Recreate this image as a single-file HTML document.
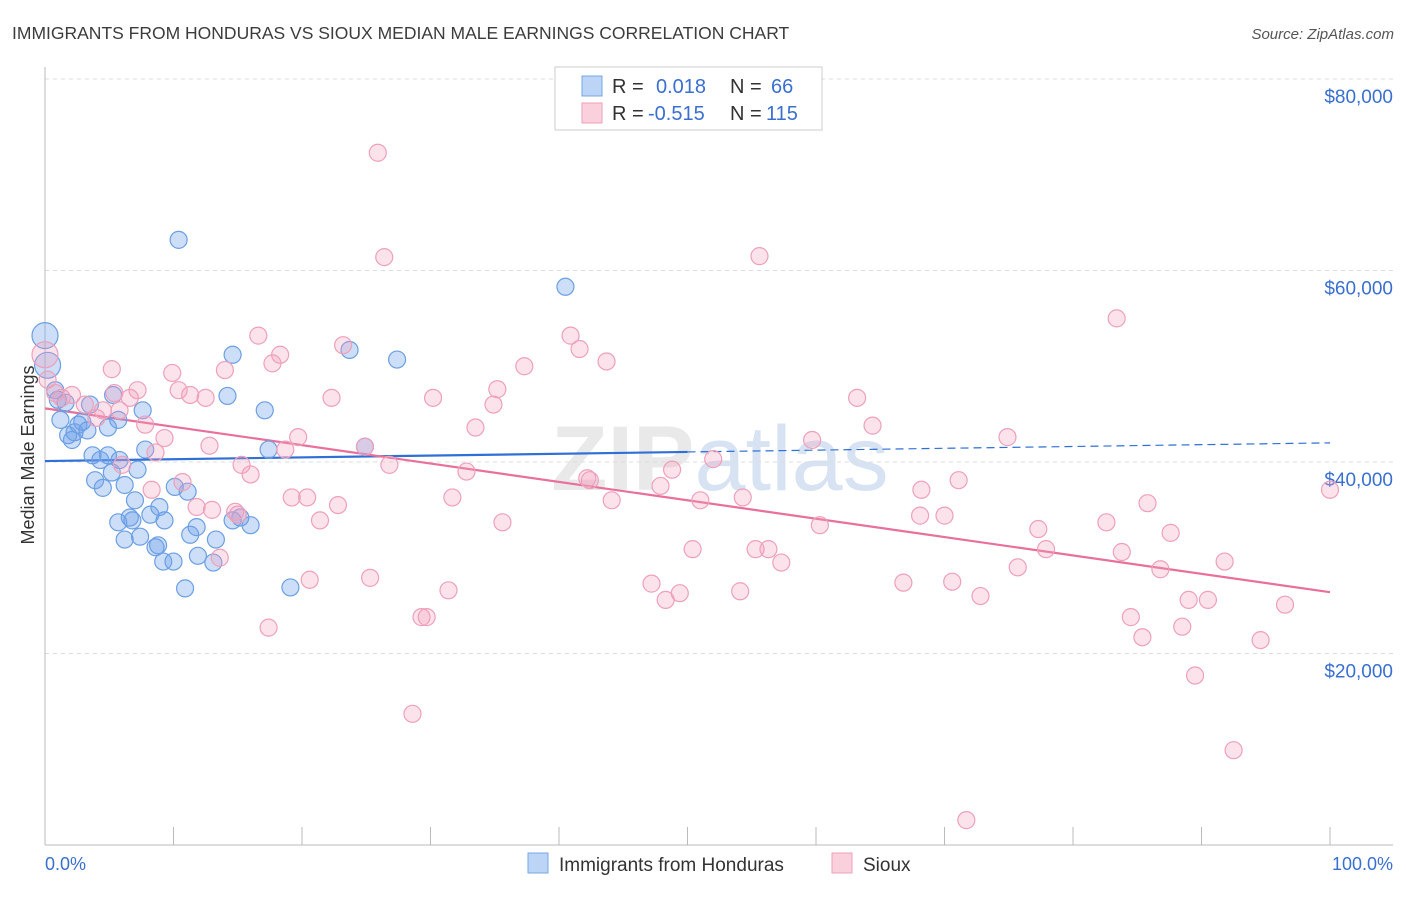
<!DOCTYPE html>
<html><head><meta charset="utf-8"><style>
body{margin:0;background:#fff;font-family:"Liberation Sans",sans-serif;}
svg text{font-family:"Liberation Sans",sans-serif;}
</style></head><body>
<svg id="c" width="1406" height="892" xmlns="http://www.w3.org/2000/svg">
<text x="12" y="39" font-size="17.5" fill="#3c3c3c">IMMIGRANTS FROM HONDURAS VS SIOUX MEDIAN MALE EARNINGS CORRELATION CHART</text>
<text x="1394" y="39" font-size="15" fill="#555" font-style="italic" text-anchor="end">Source: ZipAtlas.com</text>
<text x="720" y="490" font-size="92" fill="#d8d8d8" text-anchor="middle" font-weight="bold" opacity="0.55">ZIP<tspan fill="#b8cdea" font-weight="normal">atlas</tspan></text>
<g id="grid"></g>
<g id="axes"></g>
<g id="lines"></g>
<g id="pts"></g>
<text transform="translate(34,455) rotate(-90)" font-size="18" fill="#333" text-anchor="middle">Median Male Earnings</text>
<text x="45" y="870" font-size="18" fill="#3a6fd0">0.0%</text>
<text x="1393" y="870" font-size="18" fill="#3a6fd0" text-anchor="end">100.0%</text>
<g>
<rect x="555" y="67" width="267" height="63" fill="#fff" stroke="#ccc"/>
<rect x="582" y="76" width="20" height="20" fill="#bcd4f5" stroke="#7aa6e6"/>
<rect x="582" y="103" width="20" height="20" fill="#fbd0dd" stroke="#eea0bb"/>
<text x="612" y="93" font-size="20" fill="#333">R = <tspan fill="#3a6fd0" x="656">0.018</tspan><tspan x="730">N = </tspan><tspan fill="#3a6fd0" x="771">66</tspan></text>
<text x="612" y="120" font-size="20" fill="#333">R = <tspan fill="#3a6fd0" x="648">-0.515</tspan><tspan x="730">N = </tspan><tspan fill="#3a6fd0" x="766">115</tspan></text>
</g>
<g>
<rect x="528" y="853" width="20" height="20" fill="#bcd4f5" stroke="#7aa6e6"/>
<text x="559" y="871" font-size="19" fill="#333">Immigrants from Honduras</text>
<rect x="832" y="853" width="20" height="20" fill="#fbd0dd" stroke="#eea0bb"/>
<text x="863" y="871" font-size="19" fill="#333">Sioux</text>
</g>
</svg>
<script>
const yTicks=[20000,40000,60000,80000];
const yTickLabels=["$20,000","$40,000","$60,000","$80,000"];
const xTicks=[0,10,20,30,40,50,60,70,80,90,100];
const blueX=[0,0.2,0.8,1.0,1.2,1.6,1.8,2.1,2.3,2.6,2.9,3.3,3.5,3.7,3.9,4.3,4.5,4.9,4.9,5.2,5.3,5.7,5.7,5.8,6.2,6.2,6.6,6.8,7.0,7.2,7.4,7.6,7.8,8.2,8.6,8.8,8.9,9.2,9.3,10.0,10.1,10.4,10.9,11.1,11.3,11.8,11.9,13.1,13.3,14.2,14.6,14.6,15.2,16.0,17.1,17.4,19.1,23.7,24.9,27.4,40.5];
const blueY=[53.2,50.1,47.5,46.5,44.4,46.2,42.8,42.3,43.1,43.9,44.2,43.3,46.0,40.7,38.1,40.2,37.3,43.6,40.7,38.9,47.0,44.4,33.7,40.2,37.6,31.9,34.2,33.9,36.0,39.2,32.2,45.4,41.3,34.5,31.1,31.3,35.3,29.6,33.9,29.6,37.4,63.2,26.8,36.9,32.4,33.2,30.2,29.5,31.9,46.9,51.2,33.9,34.2,33.4,45.4,41.3,26.9,51.7,41.6,50.7,58.3];
const pinkX=[0,0.2,0.8,1.3,2.1,3.1,4.0,4.5,5.2,5.4,5.8,6.0,6.6,7.2,7.8,8.3,8.6,9.3,9.9,10.4,10.7,11.3,11.8,12.5,12.8,13.0,13.6,14.0,14.8,15.0,15.3,16.0,16.6,17.4,17.7,18.3,18.7,19.2,19.7,20.4,20.6,21.4,22.3,22.8,23.2,24.9,25.3,25.9,26.4,26.8,28.6,29.3,29.7,30.2,31.4,31.7,32.8,33.5,34.9,35.2,35.6,37.3,40.9,41.6,42.2,42.4,43.7,44.1,47.2,47.9,48.3,48.8,49.4,50.4,51.0,52.0,54.1,54.3,55.3,55.6,56.3,57.3,59.7,60.3,63.2,64.4,66.8,68.2,68.1,70.0,70.6,71.1,71.7,72.8,74.9,75.7,77.3,77.9,82.6,83.4,83.8,84.5,85.4,85.8,86.8,87.6,88.5,89.0,89.5,90.5,91.8,92.5,94.6,96.5,100];
const pinkY=[51.2,48.6,47.2,46.7,47.0,46.0,44.6,45.4,49.7,47.2,45.4,39.7,46.7,47.5,43.9,37.1,41.0,42.5,49.3,47.5,37.9,47.0,35.3,46.7,41.7,35.0,30.0,49.6,34.8,34.5,39.7,38.7,53.2,22.7,50.3,51.2,41.3,36.3,42.6,36.3,27.7,33.9,46.7,35.5,52.2,41.6,27.9,72.3,61.4,39.7,13.7,23.8,23.8,46.7,26.6,36.3,39.0,43.6,46.0,47.6,33.7,50.0,53.2,51.8,38.3,38.1,50.5,36.0,27.3,37.5,25.6,39.2,26.3,30.9,36.0,40.3,26.5,36.3,30.9,61.5,30.9,29.5,42.3,33.4,46.7,43.8,27.4,37.1,34.4,34.4,27.5,38.1,2.6,26.0,42.6,29.0,33.0,30.9,33.7,55.0,30.6,23.8,21.7,35.7,28.8,32.6,22.8,25.6,17.7,25.6,29.6,9.9,21.4,25.1,37.1];
const blueTrend=[40.1,42.0];
const pinkTrend=[45.6,26.4];
const NS="http://www.w3.org/2000/svg";
function xs(p){return 45+p*12.85;}
function ys(v){return 845-v/20000*191.5;}
function yk(k){return ys(k*1000);}
function mk(tag,attrs,parent){const e=document.createElementNS(NS,tag);for(const k in attrs)e.setAttribute(k,attrs[k]);document.getElementById(parent).appendChild(e);return e;}
yTicks.forEach((t,i)=>{
  const g=mk('line',{x1:45,x2:1393,y1:ys(t),y2:ys(t),stroke:'#dcdcdc','stroke-dasharray':'4,4'},'grid');
  
  
  const tx=mk('text',{x:1393,y:ys(t)+24,'font-size':19,fill:'#3a6fd0','text-anchor':'end'},'axes');
  tx.textContent=yTickLabels[i];
  
  
});
const topGrid=mk('line',{x1:45,x2:1393,y1:79,y2:79,stroke:'#dcdcdc','stroke-dasharray':'4,4'},'grid');


const yAxisLine=mk('line',{x1:45,x2:45,y1:67,y2:845,stroke:'#bbb'},'axes');


const xAxisLine=mk('line',{x1:45,x2:1393,y1:845,y2:845,stroke:'#bbb'},'axes');


xTicks.forEach(t=>{
  const l=mk('line',{x1:xs(t),x2:xs(t),y1:827,y2:845,stroke:'#bbb'},'axes');
  
  
});
blueX.forEach((x,i)=>{
  const c=mk('circle',{cx:xs(x),cy:yk(blueY[i]),r:i<2?13:8.5,fill:'rgba(110,160,235,0.35)',stroke:'#6c9fe3','stroke-width':1.2},'pts');
  
  
});
pinkX.forEach((x,i)=>{
  const c=mk('circle',{cx:xs(x),cy:yk(pinkY[i]),r:i<1?13:8.5,fill:'rgba(245,160,190,0.3)',stroke:'#eea0bb','stroke-width':1.2},'pts');
  
  
});
function tv(tr,p){return tr[0]+(tr[1]-tr[0])*p/100;}
const b1=mk('line',{x1:xs(0),y1:yk(tv(blueTrend,0)),x2:xs(50),y2:yk(tv(blueTrend,50)),stroke:'#2f6fd6','stroke-width':2.2},'lines');


const b2=mk('line',{x1:xs(50),y1:yk(tv(blueTrend,50)),x2:xs(100),y2:yk(tv(blueTrend,100)),stroke:'#2f6fd6','stroke-width':1.2,'stroke-dasharray':'8,5'},'lines');


const p1=mk('line',{x1:xs(0),y1:yk(tv(pinkTrend,0)),x2:xs(100),y2:yk(tv(pinkTrend,100)),stroke:'#e8709a','stroke-width':2.2},'lines');


</script>
</body></html>
